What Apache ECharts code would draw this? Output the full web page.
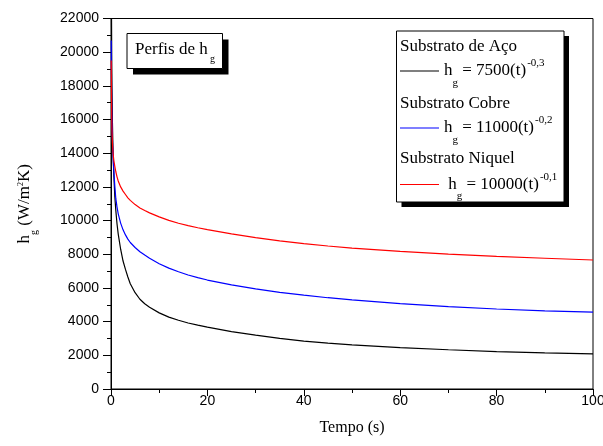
<!DOCTYPE html>
<html><head><meta charset="utf-8">
<script src="https://cdn.jsdelivr.net/npm/echarts@6/dist/echarts.min.js"></script>
<style>html,body{margin:0;padding:0;background:#fff;overflow:hidden}#c{width:603px;height:446px}</style>
</head><body><div id="c"></div>
<script>
// Data
const tempo  = [0.05, 0.1, 0.15, 0.2, 0.3, 0.4, 0.5, 0.6, 0.8, 1, 1.25, 1.5, 2, 2.5, 3, 3.5, 4, 5, 6, 7, 8, 10, 12, 14, 16, 18, 20, 25, 30, 35, 40, 45, 50, 60, 70, 80, 90, 100];
const aco    = [27500, 22500, 19800, 18000, 15800, 14400, 13400, 12600, 11400, 10600, 9800, 9200, 8300, 7600, 7100, 6650, 6250, 5720, 5330, 5060, 4850, 4520, 4270, 4080, 3920, 3790, 3670, 3410, 3200, 3010, 2840, 2725, 2620, 2460, 2330, 2220, 2140, 2080];
const cobre  = [20700, 18300, 17000, 16000, 14800, 14000, 13400, 12900, 12000, 11300, 10800, 10400, 9850, 9450, 9150, 8900, 8700, 8400, 8150, 7950, 7760, 7440, 7180, 6960, 6770, 6610, 6470, 6180, 5940, 5740, 5570, 5420, 5290, 5070, 4890, 4750, 4640, 4560];
const niquel = [19500, 17500, 16200, 15400, 14600, 14100, 13800, 13550, 13200, 12900, 12600, 12350, 12000, 11750, 11550, 11350, 11200, 10950, 10750, 10600, 10460, 10220, 10010, 9840, 9700, 9575, 9460, 9210, 8990, 8800, 8630, 8490, 8370, 8170, 8010, 7880, 7765, 7660];

const seriesNames = ['Substrato de Aço', 'Substrato Cobre', 'Substrato Niquel'];
const seriesColors = ['#000000', '#0000ff', '#ff0000'];
const coefs = ['7500', '11000', '10000'];
const exps = ['-0,3', '-0,2', '-0,1'];
const prefixes = ['', '', ' '];

const serif = 'Liberation Serif, Times New Roman, serif';
const sans = 'Liberation Sans, Arial, sans-serif';

const mctx = document.createElement('canvas').getContext('2d');
function tw(text, font) { mctx.font = font; return mctx.measureText(text).width; }

function pairs(ys) { return tempo.map((t, i) => [t, ys[i]]); }
const values = [aco, cobre, niquel];

const legendRich = {
  m: { fontFamily: serif, fontSize: 17, color: '#000', lineHeight: 20, verticalAlign: 'middle' },
  w: { fontFamily: serif, fontSize: 17, color: '#000', lineHeight: 20, verticalAlign: 'middle', width: 5.5 }
};
const iconYs = [72.5, 129.5, 186];
const textLeft = 400 + 39 + 5;
const legends = seriesNames.map((n, i) => ({
  data: [n], left: 400, top: iconYs[i] - 10, padding: 0, itemGap: 0,
  icon: 'rect', itemWidth: 39, itemHeight: 1.2, selectedMode: false, z: 6,
  textStyle: { color: '#000', rich: legendRich },
  formatter: name => {
    const k = seriesNames.indexOf(name);
    return '{m|' + prefixes[k] + 'h}{w| }{m| = ' + coefs[k] + '(t)}';
  }
}));

const f17 = '17px ' + serif, f11 = '11px ' + serif;
const subSup = [];
seriesNames.forEach((n, k) => {
  const hx = textLeft + tw(prefixes[k] + 'h', f17);
  const sx = hx + 5.5 + tw(' = ' + coefs[k] + '(t)', f17) + 1;
  subSup.push({ type: 'text', z: 7, x: hx, y: iconYs[k] + 10.5, style: { text: 'g', font: f11, fill: '#000', verticalAlign: 'middle', align: 'left' } });
  subSup.push({ type: 'text', z: 7, x: sx, y: iconYs[k] - 9, style: { text: exps[k], font: f11, fill: '#000', verticalAlign: 'middle', align: 'left' } });
});

const chart = echarts.init(document.getElementById('c'), null, { renderer: 'canvas', width: 603, height: 446 });
chart.setOption({
  backgroundColor: '#fff',
  animation: false,
  grid: { left: 111, right: 10, top: 18.5, bottom: 57, outerBoundsMode: 'none', containLabel: false,
          show: true, borderColor: '#000', borderWidth: 1, backgroundColor: 'transparent' },
  xAxis: {
    type: 'value', min: 0, max: 100, interval: 20,
    name: 'Tempo (s)', nameLocation: 'middle', nameGap: 31,
    nameTextStyle: { fontFamily: serif, fontSize: 16, color: '#000' },
    axisLine: { lineStyle: { color: '#000', width: 1 } },
    axisTick: { inside: false, length: 7, lineStyle: { color: '#000' } },
    minorTick: { show: true, splitNumber: 2, length: 4, lineStyle: { color: '#000' } },
    splitLine: { show: false },
    axisLabel: { fontFamily: sans, fontSize: 14, color: '#000', margin: 5, formatter: v => String(v) }
  },
  yAxis: {
    type: 'value', min: 0, max: 22000, interval: 2000,
    name: '{m|h}{s|g}{m| (W/m}{p|2}{m|K)}', nameLocation: 'middle', nameGap: 76, nameRotate: 90,
    nameTextStyle: {
      rich: {
        m: { fontFamily: serif, fontSize: 17, color: '#000', lineHeight: 20, verticalAlign: 'middle' },
        s: { fontFamily: serif, fontSize: 10, color: '#000', lineHeight: 20, verticalAlign: 'middle', padding: [18, 0, 0, 0] },
        p: { fontFamily: serif, fontSize: 8, color: '#000', lineHeight: 20, verticalAlign: 'middle', padding: [0, 0, 8, 0] }
      }
    },
    axisLine: { show: true, lineStyle: { color: '#000', width: 1 } },
    axisTick: { show: true, inside: false, length: 8, lineStyle: { color: '#000' } },
    minorTick: { show: true, splitNumber: 2, length: 4, lineStyle: { color: '#000' } },
    splitLine: { show: false },
    axisLabel: { fontFamily: sans, fontSize: 14, color: '#000', margin: 12, formatter: v => String(v) }
  },
  legend: legends,
  series: seriesNames.map((n, i) => ({
    name: n, type: 'line', data: pairs(values[i]),
    symbol: 'none', showSymbol: false, smooth: false, clip: true,
    lineStyle: { color: seriesColors[i], width: 1.2 }, itemStyle: { color: seriesColors[i] }, z: 2
  })),
  graphic: [
    { type: 'rect', z: 3, shape: { x: 133, y: 39.5, width: 95.5, height: 35 }, style: { fill: '#000' } },
    { type: 'rect', z: 3, shape: { x: 127, y: 33.5, width: 95.5, height: 35 }, style: { fill: '#fff', stroke: '#000', lineWidth: 1 } },
    { type: 'text', z: 4, left: 135, top: 41, style: { text: 'Perfis de h', font: f17, fill: '#000' } },
    { type: 'text', z: 4, left: 210, top: 54, style: { text: 'g', font: '10px ' + serif, fill: '#000' } },
    { type: 'rect', z: 3, shape: { x: 401.5, y: 36, width: 167.5, height: 171 }, style: { fill: '#000' } },
    { type: 'rect', z: 3, shape: { x: 396.5, y: 31, width: 167.5, height: 171 }, style: { fill: '#fff', stroke: '#000', lineWidth: 1 } },
    { type: 'text', z: 5, left: 400, top: 38, style: { text: seriesNames[0], font: f17, fill: '#000' } },
    { type: 'text', z: 5, left: 400, top: 95, style: { text: seriesNames[1], font: f17, fill: '#000' } },
    { type: 'text', z: 5, left: 400, top: 150, style: { text: seriesNames[2], font: f17, fill: '#000' } }
  ].concat(subSup)
});
</script></body></html>
